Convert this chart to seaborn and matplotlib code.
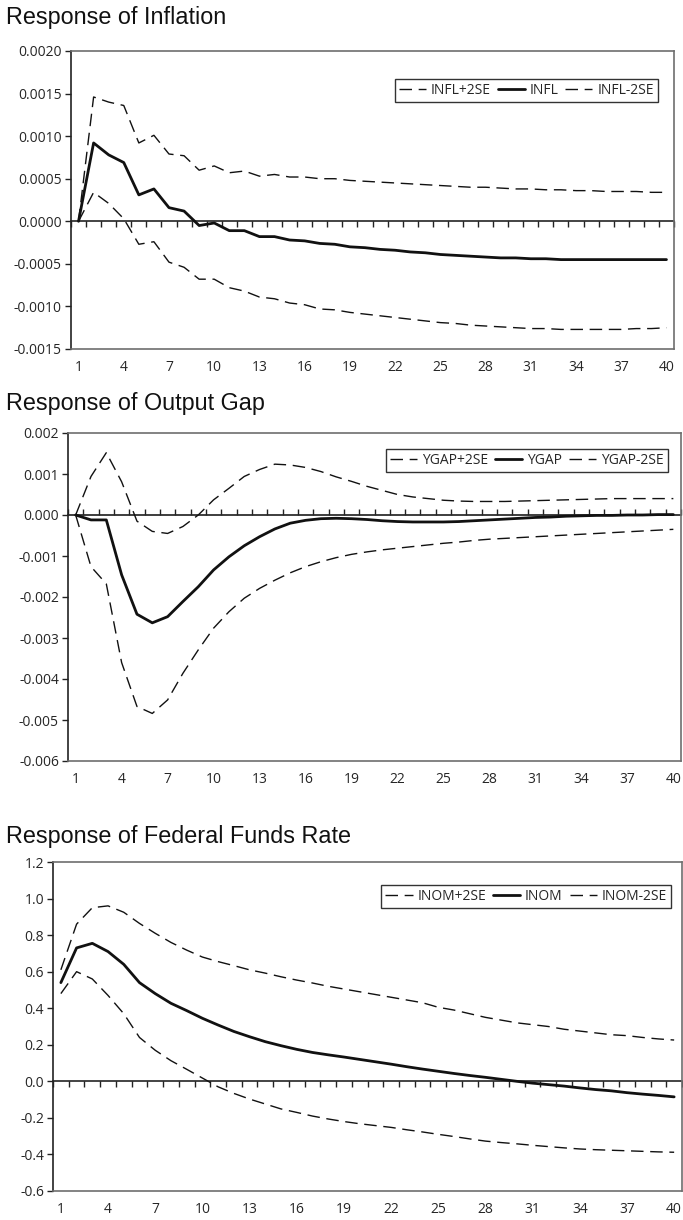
import numpy as np
import pandas as pd
import matplotlib
matplotlib.use("Agg")
import matplotlib.pyplot as plt
from matplotlib.ticker import FormatStrFormatter, FixedLocator
import seaborn as sns

# Impulse-response horizons
periods = list(range(1, 41))
x_tick_labels = [str(p) for p in range(1, 41, 3)]

# Response of inflation
infl = [0.0, 0.00092, 0.00078, 0.00069, 0.00031, 0.00038, 0.00016, 0.00012, -0.00005, -0.00002,
        -0.00011, -0.00011, -0.00018, -0.00018, -0.00022, -0.00023, -0.00026, -0.00027, -0.00030, -0.00031,
        -0.00033, -0.00034, -0.00036, -0.00037, -0.00039, -0.00040, -0.00041, -0.00042, -0.00043, -0.00043,
        -0.00044, -0.00044, -0.00045, -0.00045, -0.00045, -0.00045, -0.00045, -0.00045, -0.00045, -0.00045]
infl_up = [0.0, 0.00146, 0.00140, 0.00136, 0.00092, 0.00101, 0.00079, 0.00077, 0.00060, 0.00065,
           0.00057, 0.00059, 0.00053, 0.00055, 0.00052, 0.00052, 0.00050, 0.00050, 0.00048, 0.00047,
           0.00046, 0.00045, 0.00044, 0.00043, 0.00042, 0.00041, 0.00040, 0.00040, 0.00039, 0.00038,
           0.00038, 0.00037, 0.00037, 0.00036, 0.00036, 0.00035, 0.00035, 0.00035, 0.00034, 0.00034]
infl_lo = [0.0, 0.00034, 0.00021, 0.00003, -0.00027, -0.00024, -0.00048, -0.00054, -0.00068, -0.00068,
           -0.00078, -0.00082, -0.00089, -0.00091, -0.00096, -0.00098, -0.00103, -0.00104, -0.00107, -0.00109,
           -0.00111, -0.00113, -0.00115, -0.00117, -0.00119, -0.00120, -0.00122, -0.00123, -0.00124, -0.00125,
           -0.00126, -0.00126, -0.00127, -0.00127, -0.00127, -0.00127, -0.00127, -0.00126, -0.00126, -0.00125]

# Response of output gap
ygap = [0.0, -0.00012, -0.00012, -0.00146, -0.00242, -0.00263, -0.00248, -0.00211, -0.00175, -0.00134,
        -0.00102, -0.00075, -0.00053, -0.00034, -0.00020, -0.00013, -0.00009, -0.00008, -0.00009, -0.00011,
        -0.00014, -0.00016, -0.00017, -0.00017, -0.00017, -0.00016, -0.00014, -0.00012, -0.00010, -0.00008,
        -0.00006, -0.00005, -0.00003, -0.00002, -0.00001, -0.00001, 0.0, 0.0, 0.00001, 0.00001]
ygap_up = [0.0, 0.00094, 0.00152, 0.00081, -0.00015, -0.00040, -0.00045, -0.00028, 0.0, 0.00037,
           0.00065, 0.00094, 0.00111, 0.00124, 0.00122, 0.00116, 0.00106, 0.00093, 0.00082, 0.00070,
           0.00060, 0.00050, 0.00044, 0.00040, 0.00036, 0.00034, 0.00033, 0.00033, 0.00033, 0.00034,
           0.00035, 0.00036, 0.00037, 0.00038, 0.00039, 0.00040, 0.00040, 0.00040, 0.00040, 0.00040]
ygap_lo = [0.0, -0.00126, -0.00168, -0.00360, -0.00467, -0.00484, -0.00451, -0.00386, -0.00329, -0.00276,
           -0.00236, -0.00203, -0.00179, -0.00159, -0.00141, -0.00126, -0.00114, -0.00104, -0.00096, -0.00090,
           -0.00085, -0.00081, -0.00077, -0.00073, -0.00069, -0.00066, -0.00062, -0.00059, -0.00057, -0.00055,
           -0.00053, -0.00051, -0.00049, -0.00047, -0.00045, -0.00043, -0.00041, -0.00039, -0.00037, -0.00035]

# Response of the federal funds rate
inom = [0.54, 0.73, 0.755, 0.71, 0.64, 0.54, 0.48, 0.427, 0.387, 0.345,
        0.308, 0.273, 0.244, 0.217, 0.195, 0.175, 0.158, 0.145, 0.133, 0.12,
        0.107, 0.094, 0.08, 0.067, 0.055, 0.043, 0.032, 0.022, 0.011, 0.0,
        -0.01, -0.018, -0.026, -0.036, -0.045, -0.052, -0.062, -0.07, -0.077, -0.085]
inom_up = [0.61, 0.86, 0.95, 0.96, 0.925, 0.864, 0.81, 0.76, 0.718, 0.68,
           0.655, 0.633, 0.61, 0.592, 0.572, 0.554, 0.538, 0.52, 0.505, 0.49,
           0.475, 0.46, 0.445, 0.43, 0.405, 0.39, 0.37, 0.35, 0.335, 0.32,
           0.31, 0.30, 0.285, 0.275, 0.265, 0.255, 0.25, 0.24, 0.232, 0.226]
inom_lo = [0.48, 0.60, 0.56, 0.47, 0.37, 0.24, 0.17, 0.113, 0.066, 0.018,
           -0.03, -0.066, -0.097, -0.124, -0.151, -0.17, -0.19, -0.206, -0.22, -0.232,
           -0.242, -0.252, -0.265, -0.277, -0.29, -0.302, -0.315, -0.327, -0.335, -0.342,
           -0.35, -0.357, -0.364, -0.37, -0.374, -0.377, -0.38, -0.383, -0.386, -0.388]

sns.set_theme(style="white")
plt.rcParams["font.family"] = ["Open Sans", "DejaVu Sans"]

W, H = 683, 1220
fig = plt.figure(figsize=(W / 100, H / 100), dpi=100)
fig.patch.set_facecolor("white")

DASH = (0, (9, 4.8))
BORDER = "#6e6e6e"
TXT = "#262626"


def add_panel(box, title, title_base, series, ylim, ystep, fmt, legend_anchor):
    left, top, right, bottom = box
    ax = fig.add_axes([left / W, 1 - bottom / H, (right - left) / W, (bottom - top) / H])
    df = pd.DataFrame({"period": periods})
    handles = []
    for name, vals, solid in series:
        df[name] = vals
        sns.lineplot(data=df, x="period", y=name, ax=ax, color="#111111",
                     linewidth=2.0 if solid else 1.0,
                     linestyle="-" if solid else DASH, label=name)
        handles.append(ax.lines[-1])
    ax.set_xlim(0.5, 40.5)
    ax.set_ylim(*ylim)
    ax.set_xlabel("")
    ax.set_ylabel("")
    ax.yaxis.set_major_locator(FixedLocator(np.arange(ylim[0], ylim[1] + ystep / 2, ystep)))
    ax.yaxis.set_major_formatter(FormatStrFormatter(fmt))
    ax.set_xticks(range(1, 41, 3))
    ax.set_xticklabels(x_tick_labels)
    ax.tick_params(axis="x", length=0, pad=8, labelsize=10, labelcolor=TXT)
    ax.tick_params(axis="y", left=True, length=4, width=1, color="#222222", direction="out",
                   pad=2.5, labelsize=10, labelcolor=TXT)
    for s in ("top", "right", "bottom"):
        ax.spines[s].set_color(BORDER)
        ax.spines[s].set_linewidth(1.2)
    ax.spines["left"].set_color("#222222")
    ax.spines["left"].set_linewidth(1.2)

    # horizontal category axis crossing at zero, ticks between categories
    frac = (0 - ylim[0]) / (ylim[1] - ylim[0])
    zax = ax.secondary_xaxis(frac)
    zax.set_xticks(np.arange(0.5, 41, 1.0))
    zax.set_xticklabels([])
    zax.tick_params(axis="x", length=4.5, width=1, color="#222222", direction="out")
    zax.spines["bottom"].set_color("#111111")
    zax.spines["bottom"].set_linewidth(1.1)

    leg = ax.legend(handles=handles, labels=[s[0] for s in series], ncol=3,
                    loc="upper right", bbox_to_anchor=legend_anchor, borderaxespad=0,
                    frameon=True, fancybox=False, edgecolor="#333333", framealpha=1,
                    fontsize=10, handlelength=1.95, handletextpad=0.35, columnspacing=0.5,
                    borderpad=0.3, labelcolor=TXT)
    leg.get_frame().set_linewidth(1.0)

    fig.text(6 / W, 1 - title_base / H, title, ha="left", va="baseline",
             fontsize=16.8, family=["Liberation Sans", "DejaVu Sans"], color="#111111")
    return ax


add_panel((71, 51, 674, 349), "Response of Inflation", 24,
          [("INFL+2SE", infl_up, False), ("INFL", infl, True), ("INFL-2SE", infl_lo, False)],
          (-0.0015, 0.0020), 0.0005, "%.4f", (0.9735, 0.906))

add_panel((68, 433, 681, 761), "Response of Output Gap", 410,
          [("YGAP+2SE", ygap_up, False), ("YGAP", ygap, True), ("YGAP-2SE", ygap_lo, False)],
          (-0.006, 0.002), 0.001, "%.3f", (0.9788, 0.951))

add_panel((53, 862, 682, 1191), "Response of Federal Funds Rate", 843,
          [("INOM+2SE", inom_up, False), ("INOM", inom, True), ("INOM-2SE", inom_lo, False)],
          (-0.6, 1.2), 0.2, "%.1f", (0.9825, 0.930))

fig.savefig("out.png", dpi=100, facecolor="white")
